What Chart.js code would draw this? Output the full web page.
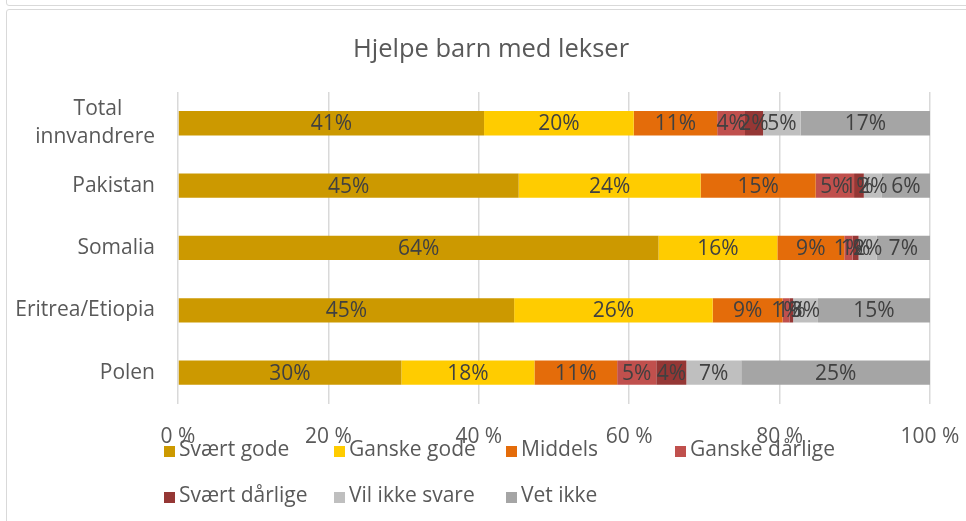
<!DOCTYPE html>
<html>
<head>
<meta charset="utf-8">
<script src="https://cdn.jsdelivr.net/npm/chart.js@4"></script>
<style>
html,body{margin:0;padding:0;background:#fff;}
#wrap{position:relative;width:966px;height:521px;overflow:hidden;background:#fff;}
#strip{position:absolute;left:6px;top:-10px;width:980px;height:14px;border:1px solid #d9d9d9;border-radius:3px;}
#frame{position:absolute;left:6px;top:9px;width:980px;height:540px;border:1px solid #d9d9d9;border-radius:3px;}
canvas{position:absolute;left:0;top:0;}
#legend{position:absolute;left:0;top:0;width:966px;height:521px;pointer-events:none;font-family:"Open Sans","Liberation Sans",sans-serif;font-size:21px;color:#595959;}
.lb{position:absolute;width:11px;height:11px;}
.lt{position:absolute;white-space:nowrap;line-height:normal;}
</style>
</head>
<body>
<div id="wrap">
<div id="strip"></div>
<div id="frame"></div>
<canvas id="c" width="966" height="521"></canvas>
<div id="legend"></div>
</div>
<script>
const categories = ['Total innvandrere', 'Pakistan', 'Somalia', 'Eritrea/Etiopia', 'Polen'];
const seriesNames = ['Svært gode', 'Ganske gode', 'Middels', 'Ganske dårlige', 'Svært dårlige', 'Vil ikke svare', 'Vet ikke'];
const svaertGode    = [40.7, 45.3, 63.9, 44.7, 29.7];
const ganskeGode    = [19.9, 24.2, 15.8, 26.4, 17.7];
const middels       = [11.1, 15.3,  8.9,  9.3, 11.0];
const ganskeDarlige = [ 3.7,  5.1,  1.1,  0.9,  5.2];
const svaertDarlige = [ 2.4,  1.3,  0.8,  0.5,  4.0];
const vilIkkeSvare  = [ 5.0,  2.4,  2.4,  3.3,  7.3];
const vetIkke       = [17.2,  6.4,  7.1, 14.9, 25.1];
const xTicks = [0, 20, 40, 60, 80, 100];
const colors = ['#CC9900', '#FFCC00', '#E46C0A', '#C0504D', '#953735', '#BFBFBF', '#A5A5A5'];
const seriesValues = [svaertGode, ganskeGode, middels, ganskeDarlige, svaertDarlige, vilIkkeSvare, vetIkke];

const FONT = '"Open Sans", "Liberation Sans", sans-serif';

const labelPlugin = {
  id: 'segLabels',
  afterLayout(chart) {
    // centre the title over the whole chart box (as in the original)
    if (chart.titleBlock) { chart.titleBlock.left = 16; chart.titleBlock.right = 966; }
  },
  afterDatasetsDraw(chart) {
    const ctx = chart.ctx;
    ctx.save();
    ctx.font = '21px ' + FONT;
    ctx.fillStyle = '#404040';
    ctx.textAlign = 'center';
    ctx.textBaseline = 'middle';
    chart.data.datasets.forEach((ds, i) => {
      const meta = chart.getDatasetMeta(i);
      meta.data.forEach((bar, j) => {
        const v = ds.data[j];
        const x = (bar.x + bar.base) / 2;
        ctx.fillText(Math.round(v) + '%', x, bar.y + 1);
      });
    });
    ctx.restore();
  }
};

const chart = new Chart(document.getElementById('c'), {
  type: 'bar',
  data: {
    labels: categories,
    datasets: seriesNames.map((n, i) => ({
      label: n,
      data: seriesValues[i],
      backgroundColor: colors[i],
      borderWidth: 0,
      barPercentage: 0.39,
      categoryPercentage: 1.0
    }))
  },
  options: {
    indexAxis: 'y',
    responsive: false,
    animation: false,
    layout: { padding: { left: 0, right: 36, top: 10, bottom: 50 } },
    plugins: {
      legend: { display: false },
      tooltip: { enabled: false },
      title: {
        display: true,
        text: 'Hjelpe barn med lekser',
        color: '#595959',
        font: { family: FONT, size: 25.5, weight: 'normal' },
        padding: { top: 24, bottom: 27.5 }
      }
    },
    scales: {
      x: {
        stacked: true,
        min: 0, max: 100,
        afterBuildTicks(scale) { scale.ticks = xTicks.map(v => ({ value: v })); },
        afterFit(scale) { scale.paddingLeft = 0; scale.paddingRight = 0; },
        ticks: {
          callback: v => v + ' %',
          color: '#595959',
          font: { family: FONT, size: 21 },
          padding: 21,
          maxRotation: 0
        },
        grid: { color: '#D9D9D9', lineWidth: 1.5, drawTicks: false },
        border: { display: false }
      },
      y: {
        stacked: true,
        afterFit(scale) { scale.width = 178; },
        ticks: {
          color: '#595959',
          font: { family: FONT, size: 21, lineHeight: 1.33 },
          padding: 23,
          callback(v) {
            const l = this.getLabelForValue(v);
            if (l === 'Total innvandrere') return ['Total      ', 'innvandrere'];
            return l;
          }
        },
        grid: { display: false, drawTicks: false },
        border: { display: false }
      }
    }
  },
  plugins: [labelPlugin]
});

// legend (HTML, built from the datasets)
const legendEl = document.getElementById('legend');
const textX = [179, 349, 521, 690];
const capMid = [449, 495];
chart.data.datasets.forEach((ds, i) => {
  const col = i % 4, row = Math.floor(i / 4);
  const b = document.createElement('div');
  b.className = 'lb';
  b.style.background = ds.backgroundColor;
  b.style.left = (textX[col] - 15) + 'px';
  b.style.top = (capMid[row] - 3) + 'px';
  const t = document.createElement('div');
  t.className = 'lt';
  t.textContent = ds.label;
  t.style.left = textX[col] + 'px';
  t.style.top = (capMid[row] - 15) + 'px';
  legendEl.appendChild(b); legendEl.appendChild(t);
});
</script>
</body>
</html>
